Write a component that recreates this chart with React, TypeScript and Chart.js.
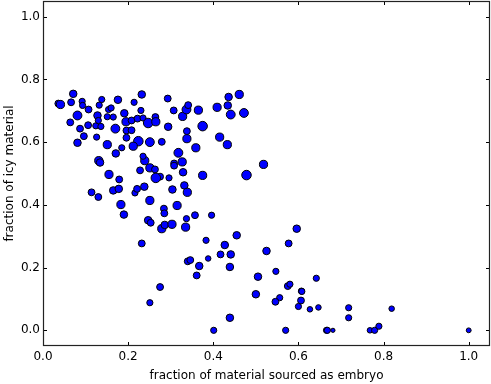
import React, { useEffect, useRef } from "react";
import { Chart, registerables } from "chart.js";

Chart.register(...registerables);

const xValues = [
  0.036, 0.041, 0.071, 0.066, 0.092, 0.093, 0.107, 0.081, 0.064, 0.087,
  0.106, 0.096, 0.081, 0.126, 0.124, 0.136, 0.128, 0.130, 0.132, 0.138,
  0.151, 0.154, 0.160, 0.165, 0.176, 0.170, 0.151, 0.171, 0.185, 0.191,
  0.195, 0.196, 0.196, 0.131, 0.134, 0.232, 0.214, 0.230, 0.208, 0.222,
  0.235, 0.247, 0.264, 0.265, 0.208, 0.224, 0.212, 0.251, 0.279, 0.294,
  0.293, 0.307, 0.328, 0.337, 0.341, 0.365, 0.338, 0.338, 0.375, 0.359,
  0.318, 0.327, 0.308, 0.239, 0.235, 0.409, 0.415, 0.436, 0.461, 0.434,
  0.441, 0.472, 0.433, 0.308, 0.329, 0.296, 0.275, 0.375, 0.478, 0.518,
  0.304, 0.332, 0.155, 0.179, 0.228, 0.251, 0.263, 0.265, 0.165, 0.178,
  0.216, 0.221, 0.238, 0.130, 0.114, 0.183, 0.190, 0.251, 0.339, 0.315,
  0.284, 0.285, 0.247, 0.253, 0.279, 0.286, 0.303, 0.337, 0.357, 0.335,
  0.232, 0.396, 0.455, 0.596, 0.383, 0.427, 0.525, 0.577, 0.417, 0.441,
  0.388, 0.340, 0.346, 0.367, 0.439, 0.361, 0.505, 0.547, 0.275, 0.251,
  0.500, 0.575, 0.580, 0.556, 0.546, 0.439, 0.401, 0.570, 0.642, 0.607,
  0.608, 0.606, 0.600, 0.627, 0.647, 0.718, 0.718, 0.819, 0.666, 0.668,
  0.681, 0.768, 0.779, 0.789, 1.000,
];

const yValues = [
  0.723, 0.720, 0.754, 0.727, 0.730, 0.717, 0.704, 0.685, 0.663, 0.643,
  0.654, 0.619, 0.598, 0.616, 0.652, 0.650, 0.685, 0.669, 0.718, 0.736,
  0.681, 0.704, 0.709, 0.680, 0.735, 0.643, 0.592, 0.564, 0.582, 0.692,
  0.665, 0.637, 0.614, 0.541, 0.535, 0.752, 0.727, 0.701, 0.669, 0.675,
  0.677, 0.661, 0.680, 0.665, 0.638, 0.603, 0.587, 0.600, 0.601, 0.649,
  0.739, 0.701, 0.682, 0.704, 0.718, 0.702, 0.635, 0.611, 0.651, 0.582,
  0.566, 0.537, 0.532, 0.541, 0.555, 0.711, 0.616, 0.744, 0.752, 0.717,
  0.688, 0.693, 0.592, 0.525, 0.504, 0.486, 0.490, 0.494, 0.495, 0.529,
  0.449, 0.462, 0.497, 0.481, 0.510, 0.518, 0.513, 0.486, 0.446, 0.451,
  0.438, 0.451, 0.458, 0.425, 0.440, 0.401, 0.369, 0.414, 0.440, 0.398,
  0.388, 0.373, 0.351, 0.343, 0.324, 0.336, 0.338, 0.356, 0.367, 0.329,
  0.277, 0.367, 0.303, 0.324, 0.287, 0.272, 0.253, 0.277, 0.242, 0.242,
  0.229, 0.220, 0.224, 0.205, 0.202, 0.175, 0.171, 0.188, 0.138, 0.088,
  0.115, 0.141, 0.147, 0.104, 0.091, 0.040, 0.000, 0.000, 0.166, 0.125,
  0.124, 0.095, 0.076, 0.067, 0.073, 0.072, 0.040, 0.069, 0.000, 0.000,
  0.000, 0.000, 0.000, 0.013, 0.000,
];

// marker size (relative units)
const markerSizes = [
  10, 12, 11, 10, 9, 9, 10, 13, 10, 10,
  10, 10, 11, 9, 9, 9, 11, 9, 9, 9,
  9, 9, 9, 9, 11, 13, 12, 11, 9, 11,
  12, 10, 10, 12, 11, 11, 9, 9, 10, 10,
  9, 14, 10, 12, 10, 14, 12, 13, 10, 11,
  10, 10, 12, 13, 10, 12, 10, 12, 14, 12,
  13, 12, 10, 12, 9, 12, 12, 11, 12, 11,
  13, 13, 12, 10, 11, 9, 10, 12, 14, 12,
  11, 11, 12, 10, 10, 12, 10, 14, 11, 11,
  9, 10, 11, 10, 10, 12, 11, 12, 12, 12,
  10, 10, 11, 10, 12, 11, 12, 9, 10, 12,
  10, 9, 11, 11, 9, 11, 11, 10, 10, 11,
  8, 10, 10, 11, 11, 10, 11, 9, 10, 9,
  11, 10, 9, 9, 10, 11, 9, 9, 9, 9,
  9, 10, 9, 8, 8, 9, 9, 8, 9, 9,
  6, 8, 9, 9, 7,
];

const xTickValues = [0.0, 0.2, 0.4, 0.6, 0.8, 1.0];
const yTickValues = [0.0, 0.2, 0.4, 0.6, 0.8, 1.0];
const xLabel = "fraction of material sourced as embryo";
const yLabel = "fraction of icy material";

const FONT = "'DejaVu Sans', sans-serif";

const frameAndTicks = {
  id: "frameAndTicks",
  afterDraw(chart: any) {
    const { ctx, chartArea, scales } = chart;
    const { left, right, top, bottom } = chartArea;
    const xs = scales.x;
    const ys = scales.y;
    ctx.save();
    ctx.strokeStyle = "#000";
    ctx.lineWidth = 1;
    const L = 4;
    ctx.beginPath();
    xs.ticks.forEach((t: any) => {
      const px = Math.round(xs.getPixelForValue(t.value)) + 0.5;
      ctx.moveTo(px, bottom);
      ctx.lineTo(px, bottom - L);
      ctx.moveTo(px, top);
      ctx.lineTo(px, top + L);
    });
    ys.ticks.forEach((t: any) => {
      const py = Math.round(ys.getPixelForValue(t.value)) + 0.5;
      ctx.moveTo(left, py);
      ctx.lineTo(left + L, py);
      ctx.moveTo(right, py);
      ctx.lineTo(right - L, py);
    });
    ctx.stroke();
    ctx.strokeStyle = "#222";
    ctx.lineWidth = 1.2;
    ctx.strokeRect(left + 0.5, top + 0.5, right - left - 1, bottom - top - 1);
    ctx.restore();
  },
};

export default function App() {
  const canvasRef = useRef<HTMLCanvasElement | null>(null);

  useEffect(() => {
    document.body.style.margin = "0";
    const canvas = canvasRef.current;
    if (!canvas) return;
    const points = xValues.map((x, i) => ({ x, y: yValues[i] }));
    const radii = markerSizes.map((s) => s / 3 + 0.1);
    const chart = new Chart(canvas, {
      type: "scatter",
      data: {
        datasets: [
          {
            data: points,
            backgroundColor: "#0000ff",
            borderColor: "#000000",
            borderWidth: 1,
            pointRadius: radii,
            pointHoverRadius: radii,
          },
        ],
      },
      options: {
        animation: false,
        responsive: false,
        events: [],
        layout: { autoPadding: false, padding: { top: 1, right: 1, left: 0, bottom: 0 } },
        plugins: {
          legend: { display: false },
          tooltip: { enabled: false },
        },
        scales: {
          x: {
            type: "linear",
            min: 0,
            max: 1.05,
            grid: { display: false, drawTicks: false },
            border: { display: false },
            afterBuildTicks: (scale: any) => {
              scale.ticks = xTickValues.map((v) => ({ value: v }));
            },
            afterFit: (scale: any) => {
              scale.height = 38;
              scale.paddingLeft = 0;
              scale.paddingRight = 0;
            },
            ticks: {
              padding: 4,
              color: "#000",
              font: { family: FONT, size: 12 },
              maxRotation: 0,
              callback: (v: any) => Number(v).toFixed(1),
            },
            title: {
              display: true,
              text: xLabel,
              color: "#000",
              font: { family: FONT, size: 12 },
              padding: { top: 0, bottom: 1 },
            },
          },
          y: {
            type: "linear",
            min: -0.05,
            max: 1.05,
            grid: { display: false, drawTicks: false },
            border: { display: false },
            afterBuildTicks: (scale: any) => {
              scale.ticks = yTickValues.map((v) => ({ value: v }));
            },
            afterFit: (scale: any) => {
              scale.width = 43;
              scale.paddingTop = 0;
              scale.paddingBottom = 0;
            },
            ticks: {
              padding: 3,
              color: "#000",
              font: { family: FONT, size: 12 },
              callback: (v: any) => Number(v).toFixed(1),
            },
            title: {
              display: true,
              text: yLabel,
              color: "#000",
              font: { family: FONT, size: 12 },
              padding: { top: 3, bottom: 0 },
            },
          },
        },
      },
      plugins: [frameAndTicks],
    });
    return () => chart.destroy();
  }, []);

  return (
    <div style={{ position: "absolute", left: 0, top: 0, width: 491, height: 384 }}>
      <canvas ref={canvasRef} width={491} height={384} />
    </div>
  );
}
